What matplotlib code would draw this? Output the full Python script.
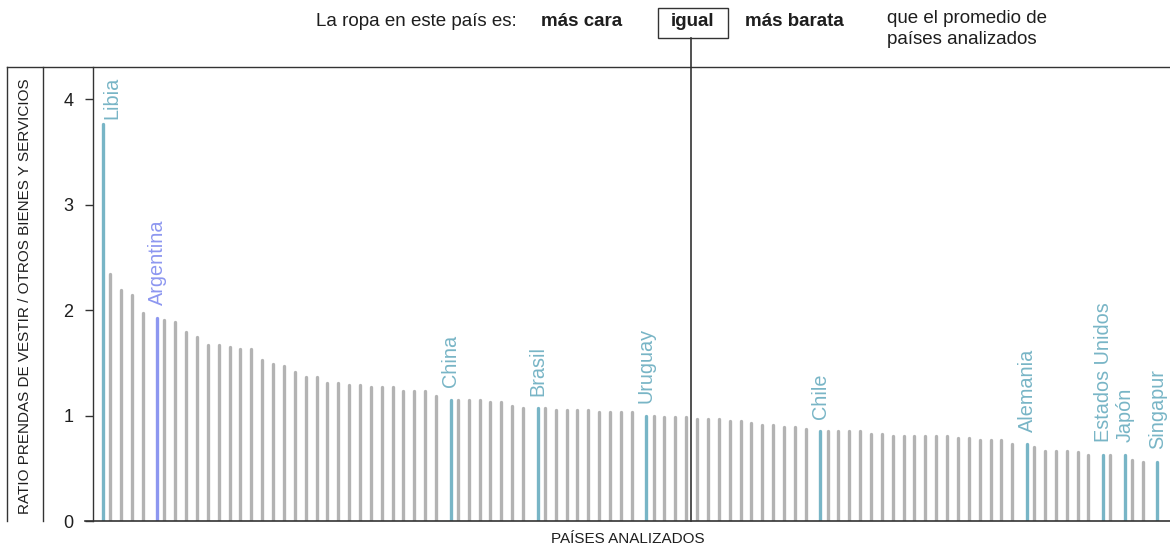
import matplotlib.pyplot as plt
from matplotlib.lines import Line2D
from matplotlib.patches import Rectangle

plt.rcParams['font.family'] = ['Liberation Sans', 'DejaVu Sans']

# Ratio prendas de vestir / otros bienes y servicios, one value per country (sorted)
ratios = [3.77, 2.34, 2.19, 2.14, 1.97, 1.93, 1.91, 1.89, 1.79, 1.75,
          1.67, 1.67, 1.65, 1.63, 1.63, 1.53, 1.49, 1.47, 1.41, 1.37,
          1.37, 1.31, 1.31, 1.29, 1.29, 1.27, 1.27, 1.27, 1.23, 1.23,
          1.23, 1.19, 1.15, 1.15, 1.15, 1.15, 1.13, 1.13, 1.09, 1.07,
          1.07, 1.07, 1.05, 1.05, 1.05, 1.05, 1.03, 1.03, 1.03, 1.03,
          1.00, 1.00, 0.99, 0.99, 0.99, 0.97, 0.97, 0.97, 0.95, 0.95,
          0.93, 0.91, 0.91, 0.89, 0.89, 0.87, 0.85, 0.85, 0.85, 0.85,
          0.85, 0.83, 0.83, 0.81, 0.81, 0.81, 0.81, 0.81, 0.81, 0.79,
          0.79, 0.77, 0.77, 0.77, 0.73, 0.73, 0.70, 0.66, 0.66, 0.66,
          0.65, 0.63, 0.63, 0.63, 0.63, 0.58, 0.56, 0.56]

# Named countries and their rank in the sorted list
named_countries = ['Libia', 'Argentina', 'China', 'Brasil', 'Uruguay', 'Chile',
                   'Alemania', 'Estados Unidos', 'Japón', 'Singapur']
named_rank = [0, 5, 32, 40, 50, 66, 85, 92, 94, 97]

yticks = [0, 1, 2, 3, 4]

# Style
GRAY = '#b3b3b3'
TEAL = '#78b5c6'
VIOLET = '#8d97f0'
DARK = '#333333'
TXT = '#1e1e1e'
HL_SHIFT = 0.35      # highlighted bars sit slightly right of their slot
EQUAL_POS = 54.42    # x of the "igual" reference line
BAR_LW = 2.4

W, H = 1170, 556
fig = plt.figure(figsize=(W / 100, H / 100), dpi=100)
ax = fig.add_axes([93.3 / W, 1 - 521 / H, (W - 93.3) / W, (521 - 67) / H])

gray_x = [i for i in range(len(ratios)) if i not in named_rank]
gray_y = [ratios[i] for i in gray_x]
lc = ax.vlines(gray_x, 0, gray_y, colors=GRAY, linewidth=BAR_LW)
lc.set_capstyle('round')

for name, i in zip(named_countries, named_rank):
    c = VIOLET if name == 'Argentina' else TEAL
    x = i + HL_SHIFT
    hl = ax.vlines([x], 0, [ratios[i]], colors=c, linewidth=BAR_LW)
    hl.set_capstyle('round')
    off = (6.5, 3) if name == 'Libia' else (0, 9)
    ax.annotate(name, xy=(x, ratios[i]), xytext=off, textcoords='offset points',
                rotation=90, ha='center', va='bottom', color=c, fontsize=14.3)

ax.set_xlim(-0.53, 98.5)
ax.set_ylim(0, 4.307)
ax.set_xticks([])
ax.set_yticks(yticks)
ax.set_yticklabels([str(t) for t in yticks], fontsize=13, color=TXT)
ax.tick_params(axis='y', length=5.8, width=1, color=DARK, pad=8.5)
for s in ['top', 'right', 'bottom']:
    ax.spines[s].set_visible(False)
ax.spines['left'].set_color(DARK)
ax.spines['left'].set_linewidth(1)

# baseline, extended a little left of the y axis
ax.axhline(0, xmin=-8 / (W - 93.3), xmax=1, color=DARK, lw=1.2, clip_on=False)
# "igual" reference line, running up to the header box
ax.axvline(EQUAL_POS, ymin=0, ymax=(521 - 38) / (521 - 67), color=DARK, lw=1.2,
           clip_on=False)

# frame lines around the y label
for line in [([7 / W, 1], [1 - 67 / H, 1 - 67 / H]),
             ([7.3 / W, 7.3 / W], [1 - 67 / H, 1 - 521 / H]),
             ([43.3 / W, 43.3 / W], [1 - 67 / H, 1 - 521 / H])]:
    fig.add_artist(Line2D(line[0], line[1], transform=fig.transFigure, color=DARK, lw=1))

fig.text(25 / W, 1 - 296 / H, 'RATIO PRENDAS DE VESTIR / OTROS BIENES Y SERVICIOS',
         rotation=90, ha='center', va='center', fontsize=11, color=TXT)
fig.text(628 / W, 1 - 539 / H, 'PAÍSES ANALIZADOS', ha='center', va='center',
         fontsize=11, color=TXT)

# header
hy = 1 - 22 / H
fig.text(316 / W, hy, 'La ropa en este país es:', ha='left', va='center', fontsize=13.5, color=TXT)
fig.text(541 / W, hy, 'más cara', ha='left', va='center', fontsize=13.5, fontweight='bold', color=TXT)
fig.add_artist(Rectangle((658 / W, 1 - 38 / H), 70 / W, 30 / H, transform=fig.transFigure,
                         fill=False, ec=DARK, lw=1))
fig.text(693 / W, hy, 'igual', ha='center', va='center', fontsize=13.5, fontweight='bold', color=TXT)
fig.text(745 / W, hy, 'más barata', ha='left', va='center', fontsize=13.5, fontweight='bold', color=TXT)
fig.text(887 / W, 1 - 29 / H, 'que el promedio de\npaíses analizados', ha='left', va='center',
         fontsize=13.5, color=TXT, linespacing=1.3)

fig.savefig('out.png', dpi=100)
